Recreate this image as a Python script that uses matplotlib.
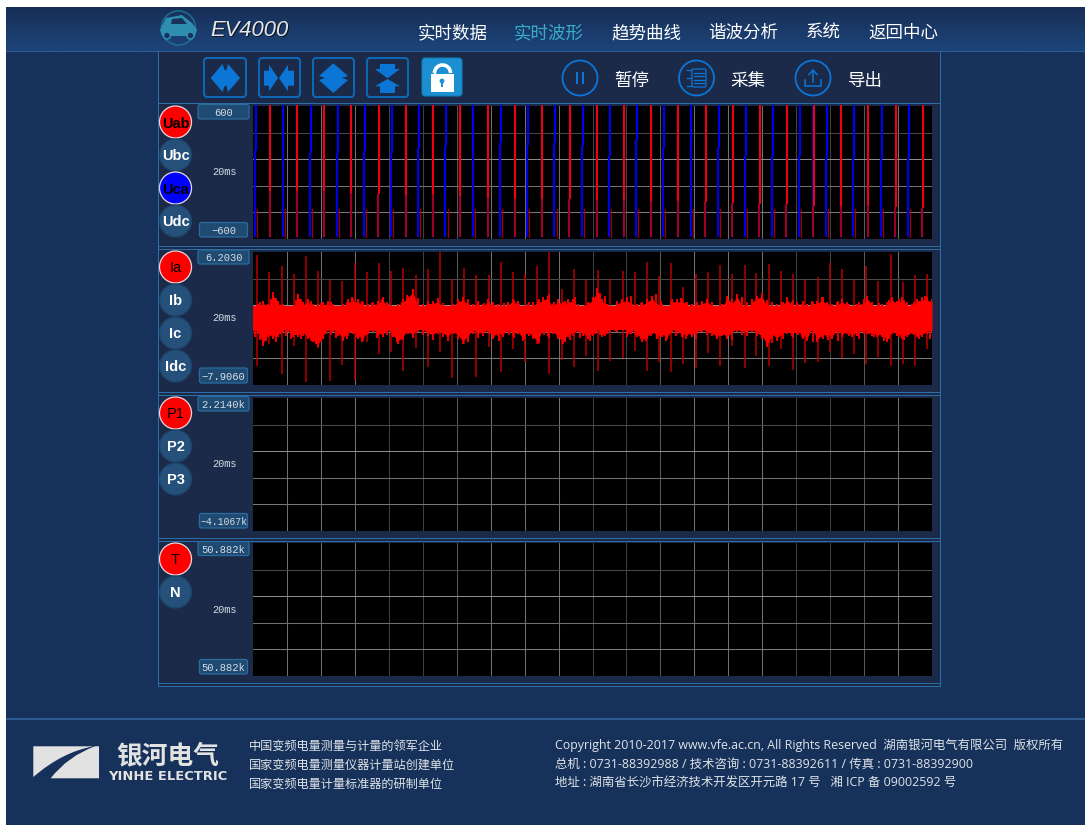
import matplotlib
matplotlib.use("Agg")
import matplotlib.pyplot as plt
import numpy as np
from matplotlib.patches import Arc, Circle, FancyBboxPatch, PathPatch, Polygon, Rectangle
from matplotlib.path import Path

plt.rcParams['font.family'] = ['Noto Sans CJK SC', 'DejaVu Sans']

W, H = 1085, 828

nav_items = ['实时数据', '实时波形', '趋势曲线', '谐波分析', '系统', '返回中心']
tool_items = ['暂停', '采集', '导出']
slogan_lines = ['中国变频电量测量与计量的领军企业', '国家变频电量测量仪器计量站创建单位', '国家变频电量计量标准器的研制单位']
copy_lines = ['Copyright 2010-2017 www.vfe.ac.cn, All Rights Reserved  湖南银河电气有限公司  版权所有',
              '总机 : 0731-88392988 / 技术咨询 : 0731-88392611 / 传真 : 0731-88392900',
              '地址 : 湖南省长沙市经济技术开发区开元路 17 号   湘 ICP 备 09002592 号']

# crossing times in ms, full window is 20 ms
uca_times = [0.09, 0.89, 1.70, 2.49, 3.30, 4.09, 4.89, 5.69, 6.49, 7.30, 8.10, 8.90, 9.71,
             10.51, 11.31, 12.11, 12.91, 13.72, 14.52, 15.32, 16.11, 16.91, 17.70, 18.52, 19.32]
uab_times = [0.50, 1.30, 2.09, 2.90, 3.70, 4.51, 5.31, 6.11, 6.93, 7.72, 8.52, 9.33, 10.13,
             10.93, 11.73, 12.53, 13.33, 14.13, 14.92, 15.72, 16.51, 17.32, 18.12, 18.93, 19.73]
# voltage where the trace changes, read per crossing
uab_knee = [-170, -170, -170, -185, -191, -200, -191, -215, -230, -239, -239, -239, -245,
            -245, -260, -260, -265, -275, -284, -284, -299, -305, -305, -311, -320]
uca_knee = [191, 176, 176, 176, 191, 176, 221, 236, 176, 266, 251, 266, 236,
            146, 296, 221, 236, 221, 146, 146, 146, 131, 131, 131, 131]

# Ia band, upper and lower edge over the 20 ms window
ia_upper = [0.51, 0.69, 1.04, 0.69, 1.92, 1.04, 0.69, 0.16, 0.51, 1.75, 0.86, 1.22, 0.69, 0.69, 0.86, 1.04,
            0.69, 0.33, 0.69, 1.22, 1.22, 1.22, 0.86, 0.69, 0.86, 1.04, 1.39, 0.69, 0.33, 0.69, 1.22, 1.57,
            2.28, 0.69, 0.69, 1.04, 1.04, 1.22, 0.69, 0.33, 0.69, 1.22, 1.39, 1.04, 0.69, 1.04,
            0.69, 1.22, 0.86, 0.69, 0.51, 0.86, 1.22, 1.04, 0.51, 0.69, 0.86, 1.04, 1.39, 1.57, 0.69, 1.22,
            0.86, 1.22, 1.22, 0.69, 0.51, 0.86, 1.39, 2.35, 1.22, 0.69, -0.02, 1.04, 1.22, 1.39, 0.69, 0.69,
            0.86, 1.22, 1.57, 0.69, 0.69, 0.51, 1.22, 1.22, 1.22, 0.86, 0.69, 0.86, 1.04,
            1.22, 0.69, 0.51, 0.69, 1.57, 1.04, 1.75, 0.69, 0.51, 1.22, 1.57, 1.75, 0.69, 0.86, 0.69, 0.86,
            1.39, 0.86, 0.86, 0.69, 0.69, 1.04, 1.04, 1.39, 0.86, 0.69, 0.86, 1.22, 0.86, 0.51, 0.69, 0.69,
            1.57, 0.86, 0.51, 0.69, 0.86, 1.39, 1.04, 1.39, 0.86, 0.69, 1.22, 1.39, 1.39, 1.22]
ia_lower = [-2.14, -2.49, -3.73, -2.85, -3.03, -2.85, -2.32, -2.32, -2.85, -2.85, -2.67, -3.03, -3.38, -3.91, -3.03, -2.14,
            -2.32, -2.67, -3.20, -2.67, -2.49, -3.03, -3.20, -2.49, -2.32, -2.67, -2.85, -2.14, -2.85, -3.56, -3.03, -2.49,
            -2.85, -2.14, -2.32, -2.67, -2.85, -2.49, -2.67, -3.03, -2.49, -2.85, -3.56, -3.03, -2.32, -2.67,
            -2.67, -2.32, -3.03, -2.67, -2.85, -2.32, -2.67, -2.49, -3.20, -2.49, -3.03, -3.56, -2.32, -2.67, -2.49, -3.03,
            -3.56, -2.85, -2.67, -2.32, -2.67, -3.03, -2.67, -2.32, -2.85, -2.49, -1.96, -2.32, -1.61, -2.85, -2.32, -2.85,
            -3.38, -3.03, -2.49, -3.03, -2.85, -3.03, -2.32, -2.49, -2.85, -2.76, -2.85, -2.49, -2.32,
            -2.49, -2.76, -3.03, -2.76, -3.03, -2.49, -2.32, -2.49, -2.49, -2.32, -2.67, -3.03, -3.91, -2.85, -3.20, -2.67,
            -2.49, -2.76, -2.49, -2.85, -3.20, -2.14, -3.38, -2.85, -2.85, -3.03, -2.32, -2.85, -2.49, -2.85, -2.67, -2.32,
            -2.49, -2.67, -2.85, -2.85, -3.38, -2.49, -2.67, -3.03, -2.85, -2.49, -2.85, -2.85, -2.49, -2.32]
# in-between samples of the same edges
ia_upper_mid = [0.30, 0.95, 0.60, 1.25, 1.35, 0.55, 0.40, 0.35, 1.10, 1.20, 0.70, 1.00, 0.45, 0.75, 0.60, 0.85,
                0.30, 0.50, 0.95, 1.45, 0.80, 1.05, 0.50, 0.75, 0.60, 1.20, 0.85, 0.30, 0.45, 0.90, 1.65, 1.10,
                1.35, 0.40, 0.85, 0.60, 1.30, 0.80, 0.35, 0.50, 1.05, 0.90, 1.20, 0.55, 0.85, 0.75,
                0.95, 0.60, 0.35, 0.80, 0.55, 1.15, 0.70, 0.40, 0.85, 0.55, 1.20, 1.00, 1.75, 0.90, 0.80, 1.05,
                0.70, 1.40, 0.45, 0.60, 0.75, 1.15, 1.90, 1.50, 0.40, 0.20, 0.50, 0.85, 1.55, 0.60, 0.80, 0.45,
                1.00, 1.70, 1.00, 0.45, 0.85, 0.70, 1.35, 0.90, 0.55, 0.75, 0.60, 1.10, 0.90,
                0.50, 0.35, 1.00, 1.20, 0.70, 1.40, 0.95, 0.30, 0.90, 1.85, 1.10, 0.85, 0.45, 0.95, 0.55, 1.10,
                0.65, 1.00, 0.45, 0.90, 0.75, 1.45, 0.70, 0.50, 1.00, 0.55, 0.70, 0.35, 0.85, 1.20, 1.05, 0.40,
                0.75, 0.50, 1.15, 0.80, 1.20, 1.10, 0.50, 0.90, 1.05, 1.55, 0.95]
ia_lower_mid = [-2.80, -3.10, -3.20, -2.45, -3.30, -2.50, -2.70, -3.05, -2.40, -3.00, -2.55, -3.25, -3.60, -3.35, -2.50, -2.55,
                -2.95, -2.45, -3.00, -2.30, -2.85, -3.35, -2.60, -2.15, -2.90, -2.40, -2.55, -2.65, -3.30, -3.15, -2.35, -2.95,
                -2.30, -2.60, -2.25, -3.10, -2.50, -2.80, -3.20, -2.35, -3.00, -3.25, -3.30, -2.50, -2.90, -2.35,
                -2.45, -2.85, -3.25, -2.40, -2.60, -2.95, -2.30, -3.05, -2.75, -2.85, -3.40, -2.60, -2.90, -2.30, -2.85, -3.30,
                -3.15, -2.40, -2.95, -2.50, -3.20, -2.45, -2.55, -2.70, -2.30, -2.15, -2.10, -2.05, -2.45, -2.60, -3.05, -3.25,
                -2.70, -2.35, -2.85, -3.20, -2.40, -2.70, -2.30, -3.05, -2.50, -3.00, -2.30, -2.55, -2.75,
                -2.90, -2.55, -2.95, -3.15, -2.30, -2.55, -2.70, -2.20, -2.60, -2.90, -3.40, -3.50, -2.60, -3.00, -2.40, -2.90,
                -2.55, -3.00, -2.30, -3.35, -2.60, -3.05, -3.15, -2.55, -3.20, -2.50, -2.70, -2.30, -3.05, -2.50, -2.45, -2.85,
                -2.55, -3.20, -3.05, -2.35, -2.85, -3.15, -2.60, -2.65, -3.05, -2.35, -3.00]
ia_spike_times = [0.12, 0.48, 0.84, 1.20, 1.56, 1.91, 2.27, 2.63, 2.99, 3.35, 3.71, 4.07, 4.43, 4.79, 5.14, 5.50, 5.86, 6.22, 6.58,
                  6.94, 7.30, 7.66, 8.02, 8.37, 8.73, 9.09, 9.45, 9.81, 10.17, 10.53, 10.89, 11.25, 11.60, 11.96, 12.32, 12.68, 13.04,
                  13.40, 13.76, 14.12, 14.48, 14.83, 15.19, 15.55, 15.91, 16.27, 16.63, 16.99, 17.35, 17.71, 18.06, 18.42, 18.78, 19.14, 19.50, 19.86]
ia_spike_top = [5.92, 4.12, 4.68, 3.87, 5.74, 4.22, 3.27, 3.16, 5.04, 4.05, 5.04, 4.22, 4.47, 3.76, 4.40, 6.20, 3.34, 4.47, 3.76,
                3.76, 5.11, 4.05, 3.87, 4.68, 6.20, 2.28, 4.40, 3.27, 4.33, 3.34, 4.22, 4.05, 5.18, 3.69, 5.04, 2.46, 3.87,
                4.12, 4.82, 3.87, 4.82, 3.94, 4.93, 4.15, 3.87, 3.27, 3.52, 5.04, 4.40, 3.27, 4.75, 3.16, 5.99, 2.98, 3.80, 3.87]
ia_spike_bottom = [-5.85, -3.56, -6.74, -3.73, -7.62, -3.98, -7.45, -5.78, -7.34, -3.38, -4.62, -4.37, -6.38, -4.02, -6.03, -4.37, -7.20, -3.56, -7.09,
                   -3.91, -6.56, -4.09, -5.50, -3.56, -6.74, -5.22, -6.03, -4.86, -6.38, -5.32, -5.00, -4.26, -6.38, -5.43, -6.49, -5.68, -6.14,
                   -4.51, -5.92, -3.73, -6.14, -4.79, -5.92, -4.09, -6.35, -5.57, -5.43, -4.44, -5.00, -4.58, -5.64, -4.93, -5.92, -5.71, -5.85, -4.09]

panel_names = [['Uab', 'Ubc', 'Uca', 'Udc'], ['Ia', 'Ib', 'Ic', 'Idc'], ['P1', 'P2', 'P3'], ['T', 'N']]
panel_active = [{'Uab': 'red', 'Uca': 'blue'}, {'Ia': 'red'}, {'P1': 'red'}, {'T': 'red'}]
panel_top_labels = ['600', '6.2030', '2.2140k', '50.882k']
panel_bottom_labels = ['−600', '−7.9060', '−4.1067k', '50.882k']
panel_ylims = [(-600, 600), (-7.906, 6.203), (-4106.7, 2214.0), (50881.5, 50882.5)]

PAGE = '#17325a'
INNER = '#1c2a4a'
EDGE = '#2e6ca6'
ICON = '#0b76d6'

fig = plt.figure(figsize=(W / 100, H / 100), dpi=100, facecolor='white')
bg = fig.add_axes([0, 0, 1, 1])
bg.set_xlim(0, W)
bg.set_ylim(H, 0)
bg.axis('off')


def box(x0, y0, x1, y1, color, z=1):
    bg.add_patch(Rectangle((x0, y0), x1 - x0, y1 - y0, facecolor=color, edgecolor='none', zorder=z))


def rbox(x0, y0, x1, y1, face, edge, lw=1.0, r=3, z=3):
    bg.add_patch(FancyBboxPatch((x0 + r, y0 + r), x1 - x0 - 2 * r, y1 - y0 - 2 * r,
                                boxstyle='round,pad=%g,rounding_size=%g' % (r, r),
                                facecolor=face, edgecolor=edge, linewidth=lw, zorder=z))


def poly(points, color, z=4):
    bg.add_patch(Polygon(points, closed=True, facecolor=color, edgecolor='none', zorder=z))


# page
box(6, 8, W, H - 2, PAGE, 0)
grad = np.linspace(0, 1, 44).reshape(-1, 1)
bg.imshow(grad, extent=(6, W, 52, 8), aspect='auto', zorder=0.5,
          cmap=matplotlib.colors.LinearSegmentedColormap.from_list('hdr', ['#172f57', '#1d447a']))
bg.set_xlim(0, W)
bg.set_ylim(H, 0)
box(6, 51.5, W, 53, '#2d5b92', 2)
box(6, 718.5, W, 720.5, '#2d5b92', 2)

# main frame
box(158, 53, 941, 688, INNER, 1)
box(158, 52, 159, 688, EDGE, 2)
box(940, 52, 941, 688, EDGE, 2)
for y in [104, 247, 250, 393, 396, 539, 542, 684, 687]:
    box(158, y, 941, y + 1, EDGE, 2)

# header
bg.add_patch(Circle((178.5, 29), 17, facecolor='none', edgecolor='#1f6a90', linewidth=1.2, zorder=3))
poly([(160, 31), (166, 19), (182, 16), (192, 24), (197, 31), (195, 37), (162, 37)], '#2f8db0')
poly([(172, 20), (182, 19), (187, 25), (171, 25)], '#17325a', 5)
for cx in [167, 190.5]:
    bg.add_patch(Circle((cx, 36.5), 3.5, facecolor='#17325a', edgecolor='#2f8db0', linewidth=1.2, zorder=5))
bg.text(211, 31.5, 'EV4000', fontsize=15.8, style='italic', family='Liberation Sans', color='#101522',
        va='center', ha='left', zorder=4)
bg.text(210, 30.5, 'EV4000', fontsize=15.8, style='italic', family='Liberation Sans', color='#e4e6e8',
        va='center', ha='left', zorder=5)
for label, cx in zip(nav_items, [453, 549, 646, 743, 823, 903]):
    bg.text(cx, 33, label, fontsize=12.6, color='#39aecb' if label == '实时波形' else 'white',
            ha='center', va='center', zorder=5)

# toolbar
for x0, x1 in [(204, 246), (259, 300), (313, 354), (367, 408)]:
    rbox(x0, 59, x1, 98, 'none', '#0f68b8', 1.4)
poly([(210.7, 79), (222.5, 65), (224.5, 71), (226.5, 71), (228, 65), (240, 79),
      (228, 93), (226.5, 87), (224.5, 87), (222.5, 93)], ICON)
poly([(264, 71.7), (269, 71.7), (269, 65.7), (278, 79), (269, 92.3), (269, 86.7), (264, 86.7)], ICON)
poly([(294, 71.7), (288, 71.7), (288, 65.7), (279, 79), (288, 92.3), (288, 86.7), (294, 86.7)], ICON)
poly([(333.3, 64.3), (348, 77), (342, 79), (348, 81), (333.3, 94), (319, 81), (325, 79), (319, 77)], ICON)
poly([(380, 65), (395, 65), (395, 70), (400, 70), (387.5, 79.3), (375, 70), (380, 70)], ICON)
poly([(380, 94), (395, 94), (395, 87.3), (400, 87.3), (387.5, 80), (375, 87.3), (380, 87.3)], ICON)
rbox(422, 59, 462, 97, '#1b8fd2', '#137ab8', 0.8)
box(431, 75, 453.5, 92.5, 'white', 5)
bg.add_patch(Arc((442.5, 74), 16, 16, theta1=180, theta2=360, edgecolor='white', linewidth=2.6, zorder=5))
box(433.5, 70, 436, 76, 'white', 5)
bg.add_patch(Circle((442, 82), 2.4, facecolor='#1b8fd2', edgecolor='none', zorder=6))
box(441, 82, 443, 88, '#1b8fd2', 6)
for cx, tx, label in zip([580, 696.5, 813], [632, 748, 865], tool_items):
    bg.add_patch(Circle((cx, 79), 17.5, facecolor='none', edgecolor=ICON, linewidth=1.3, zorder=4))
    bg.text(tx, 81, label, fontsize=12.6, color='white', ha='center', va='center', zorder=5)
box(575.5, 73, 577.5, 85, ICON, 5)
box(581.5, 73, 583.5, 85, ICON, 5)
rbox(692, 70, 706, 88, 'none', ICON, 0.9, r=1.5, z=5)
for yy in [73.5, 77, 80.5, 84]:
    bg.plot([694, 704], [yy, yy], color=ICON, lw=0.9, zorder=5)
bg.plot([687, 691], [71, 71], color=ICON, lw=0.9, zorder=5)
bg.plot([687, 691], [79, 79], color=ICON, lw=0.9, zorder=5)
bg.plot([687, 691], [87, 87], color=ICON, lw=0.9, zorder=5)
bg.plot([805, 805, 821, 821], [81, 87, 87, 81], color=ICON, lw=1.1, zorder=5)
bg.plot([813, 813], [72, 83], color=ICON, lw=1.1, zorder=5)
bg.plot([809, 813, 817], [75.5, 71, 75.5], color=ICON, lw=1.1, zorder=5)

# panels
panel_boxes = [(107, 240), (253, 386), (399, 532), (544, 677)]
button_y = [[123, 156, 189, 222], [268, 301, 334, 367], [414, 447, 480], [560, 593]]
top_box_y = [(105.5, 120), (251, 265), (397.5, 412), (542.5, 556.5)]
bottom_box_y = [(223.5, 238), (369, 384), (514.5, 529), (660.5, 675)]
mid_y = [172, 318, 464, 610]
h_greys = ['#484848', '#8c8c8c', '#707070', '#787878']
v_greys = ['#707070', '#707070', '#707070', '#404040', '#404040', '#585858']

axes = []
for i, (y0, y1) in enumerate(panel_boxes):
    ax = fig.add_axes([253 / W, 1 - y1 / H, (932 - 253) / W, (y1 - y0) / H], facecolor='black')
    ax.set_xlim(0, 20)
    ax.set_ylim(*panel_ylims[i])
    ax.set_xticks([])
    ax.set_yticks([])
    for s in ax.spines.values():
        s.set_visible(False)
    for t in range(1, 20):
        ax.axvline(t, color=v_greys[(t - 1) % 6], lw=0.75, zorder=1)
    for k, frac in enumerate([0.2, 0.4, 0.6, 0.8]):
        ax.plot([0, 1], [1 - frac, 1 - frac], transform=ax.transAxes, color=h_greys[k], lw=0.75, zorder=1)
    axes.append(ax)

    for name, cy in zip(panel_names[i], button_y[i]):
        state = panel_active[i].get(name)
        if state:
            bg.add_patch(Circle((175.5, cy), 16, facecolor=state, edgecolor='#e8d8e0', linewidth=0.9, zorder=3))
            bg.text(175.5, cy + 0.5, name, fontsize=10.5, color='black', family='Liberation Sans',
                    weight='bold' if len(name) == 3 else 'normal', ha='center', va='center', zorder=4)
        else:
            bg.add_patch(Circle((175.5, cy), 16, facecolor='#24507a', edgecolor='#1c4468', linewidth=0.9, zorder=3))
            bg.text(175.5, cy + 0.5, name, fontsize=10.5, color='white', family='Liberation Sans', weight='bold',
                    ha='center', va='center', zorder=4)
    rbox(198, top_box_y[i][0], 249, top_box_y[i][1], '#1f4a72', '#2a6c9e', 0.9, r=2)
    rbox(199.5, bottom_box_y[i][0], 247.5, bottom_box_y[i][1], '#1f4a72', '#2a6c9e', 0.9, r=2)
    bg.text(223.5, sum(top_box_y[i]) / 2 + 0.5, panel_top_labels[i], fontsize=7.6, family='Liberation Mono',
            color='#d4dce4', ha='center', va='center', zorder=5)
    bottom_size = 7.0 if len(panel_bottom_labels[i]) > 7 else 7.6
    bg.text(223.5, sum(bottom_box_y[i]) / 2 + 0.5, panel_bottom_labels[i], fontsize=bottom_size, family='Liberation Mono',
            color='#d4dce4', ha='center', va='center', zorder=5)
    bg.text(225, mid_y[i], '20ms', fontsize=7.4, family='Liberation Mono', color='#d4dce4',
            ha='center', va='center', zorder=5)

# voltage traces, Uab and Uca hit the same spots so both show at every crossing
ax = axes[0]
for t, knee in zip(uab_times, uab_knee):
    ax.plot([t - 0.03, t - 0.03], [-582, 612], color='#0000b0', lw=0.9, zorder=2, clip_on=False)
    ax.plot([t, t], [knee, 612], color='#f00010', lw=1.5, zorder=3, clip_on=False, solid_capstyle='butt')
    ax.plot([t - 0.01, t - 0.01], [-582, knee], color='#a00024', lw=1.5, zorder=3, solid_capstyle='butt')
for t, knee in zip(uca_times, uca_knee):
    ax.plot([t + 0.04, t + 0.04], [-582, -330], color='#a00000', lw=0.9, zorder=2)
    ax.plot([t, t], [knee, 612], color='#0000f0', lw=1.6, zorder=3, clip_on=False, solid_capstyle='butt')
    ax.plot([t - 0.02, t - 0.02], [-582, knee], color='#0000e0', lw=1.6, zorder=3, solid_capstyle='butt')

# current trace
ax = axes[1]
ia_t = np.linspace(0, 20, len(ia_upper))
ia_t_mid = np.linspace(0.07, 19.93, len(ia_upper_mid))
ax.vlines(ia_spike_times, ia_spike_bottom, ia_spike_top, color='#b80000', lw=1.1, zorder=2)
ax.vlines(ia_t, ia_lower, ia_upper, color='#f00000', lw=1.5, zorder=3)
ax.vlines(ia_t_mid, ia_lower_mid, ia_upper_mid, color='#e80000', lw=1.5, zorder=3)
ax.fill_between(ia_t, np.array(ia_lower) + 0.3, np.array(ia_upper) - 0.3, color='#ff0000', lw=0, zorder=4)
ax.fill_between(ia_t, -2.1, 0.45, color='#ff0000', lw=0, zorder=4)

# footer logo
bg.add_patch(PathPatch(Path([(33.3, 747.3), (93.5, 747.3), (62, 753), (33.3, 778), (33.3, 747.3)],
                            [Path.MOVETO, Path.LINETO, Path.CURVE3, Path.CURVE3, Path.CLOSEPOLY]),
                       facecolor='#e2e2e2', edgecolor='none', zorder=3))
bg.add_patch(PathPatch(Path([(50.7, 779.3), (68, 757), (95, 747.3), (99, 747.3), (99, 779.3), (50.7, 779.3)],
                            [Path.MOVETO, Path.CURVE3, Path.CURVE3, Path.LINETO, Path.LINETO, Path.CLOSEPOLY]),
                       facecolor='#e2e2e2', edgecolor='none', zorder=3))
bg.text(167.5, 755.5, '银河电气', fontsize=18.5, weight='bold', color='#e2e2e2', ha='center', va='center', zorder=4)
bg.text(167.5, 776.5, 'YINHE ELECTRIC', fontsize=9.4, weight='bold', family='DejaVu Sans', color='#e2e2e2',
        ha='center', va='center', zorder=4)
for line, y in zip(slogan_lines, [746, 765, 784]):
    bg.text(249, y, line, fontsize=8.75, color='#dfe3e8', ha='left', va='center', zorder=4)
for line, y in zip(copy_lines, [745, 764, 783]):
    bg.text(555, y, line, fontsize=8.95, family=['Open Sans', 'Noto Sans CJK SC'], color='#dfe3e8',
            ha='left', va='center', zorder=4)

plt.savefig('out.png', dpi=100, facecolor='white')
